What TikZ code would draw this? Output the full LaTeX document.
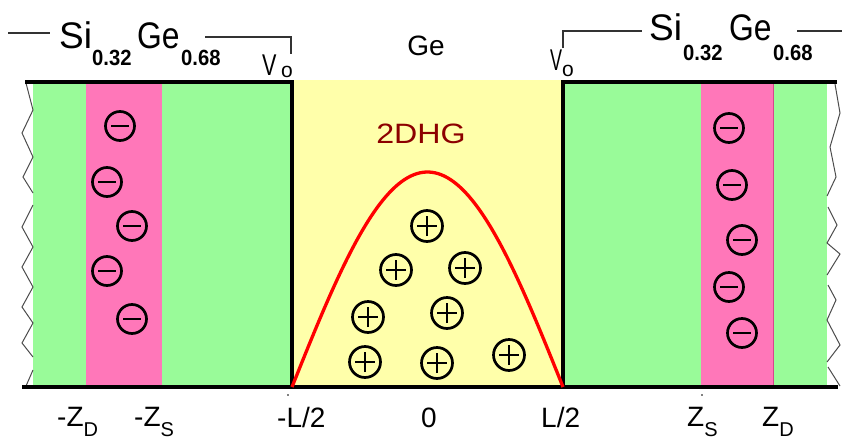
\documentclass[tikz,border=0pt]{standalone}
\usepackage{fontspec}
\setmainfont{Liberation Sans}
\usepackage{graphicx}
\definecolor{lgreen}{RGB}{153,251,153}
\definecolor{lpink}{RGB}{255,119,185}
\definecolor{pinkedge}{RGB}{215,70,140}
\definecolor{lyellow}{RGB}{255,255,170}
\definecolor{dred}{RGB}{140,0,0}
\newcommand{\subl}[1]{\raisebox{-10pt}{\fontsize{20}{22}\selectfont #1}}
\begin{document}
\begin{tikzpicture}[x=1pt,y=-1pt,
  bar/.style={line width=4pt, line join=miter},
  zig/.style={draw=black!70, line width=1pt},
  leader/.style={draw=black!80, line width=1.1pt},
  charge/.style={circle, draw, line width=2.7pt, minimum size=29pt, inner sep=0pt},
  minuscharge/.style={charge, path picture={
      \draw[line width=2.7pt] ([xshift=-9pt]path picture bounding box.center) -- ([xshift=9pt]path picture bounding box.center);}},
  pluscharge/.style={charge, minimum size=31pt, path picture={
      \draw[line width=2.7pt] ([xshift=-10pt]path picture bounding box.center) -- ([xshift=10pt]path picture bounding box.center);
      \draw[line width=2.7pt] ([yshift=-10pt]path picture bounding box.center) -- ([yshift=10pt]path picture bounding box.center);}},
  bigtxt/.style={inner sep=0pt, font=\fontsize{37}{40}\selectfont},
  subtxt/.style={inner sep=0pt, font=\fontsize{22}{24}\selectfont\bfseries},
  vtxt/.style={inner sep=0pt, font=\fontsize{30}{32}\selectfont},
  otxt/.style={inner sep=0pt, font=\fontsize{21}{24}\selectfont},
  axtxt/.style={inner sep=0pt, font=\fontsize{28}{32}\selectfont},
  ]
\useasboundingbox (0,0) rectangle (842,439);
\fill[white] (0,0) rectangle (842,439);

% regions
\fill[lgreen] (33,84) rectangle (292,386);
\fill[lpink] (86,84) rectangle (162,386);
\fill[lyellow] (292,80) rectangle (563,386);
\fill[lgreen] (563,84) rectangle (827,386);
\fill[lpink] (701,84) rectangle (773,386);
\draw[pinkedge, line width=0.6pt] (773,84) -- (773,386);

% broken edges
\draw[zig] (26,83)--(33,110)--(22,133)--(33,157)--(23,177)--(33,193);
\draw[zig] (33,205)--(22,227)--(33,247)--(22,267)--(33,287)--(22,307)--(33,323)--(22,343)--(33,357);
\draw[zig] (33,370)--(26,386);
\draw[zig] (835,84)--(840,113)--(830,147)--(836,177)--(827,196);
\draw[zig] (828,207)--(837,225)--(827,243)--(840,254)--(827,275);
\draw[zig] (828,285)--(836,300)--(827,320)--(840,345)--(827,362);
\draw[zig] (828,367)--(840,386);

% black walls
\draw[bar] (25,82) -- (292,82) -- (292,387);
\draw[bar] (837,82) -- (563,82) -- (563,387);
\draw[bar] (22,387) -- (838,387);

% hole distribution
\draw[red, line width=3.3pt] plot[domain=292:563, samples=90] (\x, {387-215*cos(0.66421*(\x-427.5))});

% charges
\node[minuscharge] (m1) at (120,126) {};
\node[minuscharge] (m2) at (107,182) {};
\node[minuscharge] (m3) at (132,226) {};
\node[minuscharge] (m4) at (107,271) {};
\node[minuscharge] (m5) at (132,319) {};
\node[minuscharge] (m6) at (729,128) {};
\node[minuscharge] (m7) at (732,185) {};
\node[minuscharge] (m8) at (742,240) {};
\node[minuscharge] (m9) at (729,287) {};
\node[minuscharge] (m10) at (742,333) {};
\node[pluscharge] (p1) at (427,226) {};
\node[pluscharge] (p2) at (396,270) {};
\node[pluscharge] (p3) at (465,268) {};
\node[pluscharge] (p4) at (368,317) {};
\node[pluscharge] (p5) at (447,313) {};
\node[pluscharge] (p6) at (365,362) {};
\node[pluscharge] (p7) at (437,363) {};
\node[pluscharge] (p8) at (509,355) {};

% top labels left
\node[bigtxt, anchor=base west] (siL) at (59,48) {Si};
\node[subtxt, anchor=base west] (s1L) at (92,65) {\scalebox{0.92}[1]{0.32}};
\node[bigtxt, anchor=base west] (geL) at (137,48) {\scalebox{0.86}[1]{Ge}};
\node[subtxt, anchor=base west] (s2L) at (181,65) {\scalebox{0.92}[1]{0.68}};
\node[vtxt, anchor=base west] (vL) at (262,75) {\scalebox{0.72}[1]{V}};
\node[otxt, anchor=base] (oL) at (287,77) {o};
\coordinate (aL1) at (8,33);
\coordinate (aL2) at (50,33);
\coordinate (bL1) at (205,37);
\coordinate (bL2) at (291,37);
\coordinate (bL3) at (291,54);
\draw[leader] (aL1) -- (aL2);
\draw[leader] (bL1) -- (bL2) -- (bL3);

% top labels right
\node[bigtxt, anchor=base west] (siR) at (649,40) {Si};
\node[subtxt, anchor=base west] (s1R) at (683,60) {\scalebox{0.92}[1]{0.32}};
\node[bigtxt, anchor=base west] (geR) at (729,40) {\scalebox{0.86}[1]{Ge}};
\node[subtxt, anchor=base west] (s2R) at (773,60) {\scalebox{0.92}[1]{0.68}};
\node[vtxt, anchor=base west] (vR) at (550,70) {\scalebox{0.6}[1]{V}};
\node[otxt, anchor=base] (oR) at (568,76) {o};
\coordinate (aR1) at (563,48);
\coordinate (aR2) at (563,31);
\coordinate (aR3) at (642,31);
\coordinate (cR1) at (797,31);
\coordinate (cR2) at (842,31);
\draw[leader] (aR1) -- (aR2) -- (aR3);
\draw[leader] (cR1) -- (cR2);

% centre labels
\node[axtxt, anchor=base] (ge) at (426,55) {Ge};
\node[axtxt, anchor=base, text=dred] (dhg) at (421,143) {\scalebox{1.15}[1]{2DHG}};

% axis labels
\fill (288,395) circle (0.9pt);
\fill (702,395) circle (0.9pt);
\node[axtxt, anchor=base west] (zdm) at (57,426) {-Z\subl{D}};
\node[axtxt, anchor=base west] (zsm) at (134,426) {-Z\subl{S}};
\node[axtxt, anchor=base west] (lm) at (277,427) {-L/2};
\node[axtxt, anchor=base] (zero) at (429,427) {0};
\node[axtxt, anchor=base west] (lp) at (541,427) {L/2};
\node[axtxt, anchor=base west] (zsp) at (687,426) {Z\subl{S}};
\node[axtxt, anchor=base west] (zdp) at (762,426) {Z\subl{D}};
\end{tikzpicture}
\end{document}
